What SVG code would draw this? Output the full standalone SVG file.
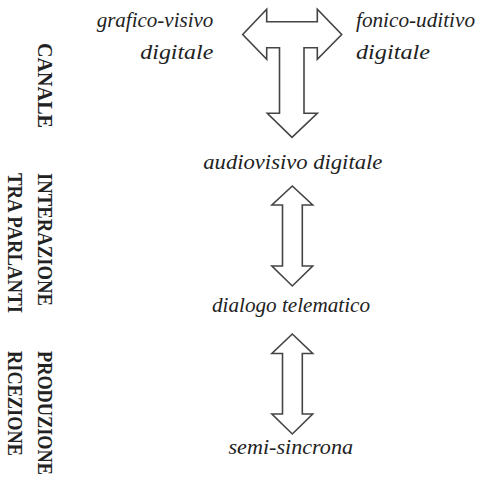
<svg xmlns="http://www.w3.org/2000/svg" width="490" height="482" viewBox="0 0 490 482">
<style>
.it{font-family:"Liberation Serif","Times New Roman",serif;font-style:italic;font-size:20px;fill:#222}
.lab{font-family:"Liberation Serif","Times New Roman",serif;font-weight:bold;font-size:20px;fill:#222}
.arr{fill:#fff;stroke:#444;stroke-width:1.6;stroke-linejoin:miter}
</style>
<rect width="490" height="482" fill="#fff"/>
<g id="label-canale"><text class="lab" transform="translate(37.5,43) rotate(90)" textLength="85" lengthAdjust="spacingAndGlyphs">CANALE</text></g>
<g id="label-interazione"><text class="lab" transform="translate(37.5,173) rotate(90)" textLength="133" lengthAdjust="spacingAndGlyphs">INTERAZIONE</text><text class="lab" transform="translate(8,173) rotate(90)" textLength="140" lengthAdjust="spacingAndGlyphs">TRA PARLANTI</text></g>
<g id="label-produzione"><text class="lab" transform="translate(37.5,351) rotate(90)" textLength="124" lengthAdjust="spacingAndGlyphs">PRODUZIONE</text><text class="lab" transform="translate(8,351) rotate(90)" textLength="105" lengthAdjust="spacingAndGlyphs">RICEZIONE</text></g>
<g id="node-grafico"><text class="it" x="213.3" y="27" text-anchor="end" textLength="116.6" lengthAdjust="spacingAndGlyphs">grafico-visivo</text><text class="it" x="213.3" y="58.5" text-anchor="end" textLength="73" lengthAdjust="spacingAndGlyphs">digitale</text></g>
<g id="node-fonico"><text class="it" x="356" y="27" textLength="119" lengthAdjust="spacingAndGlyphs">fonico-uditivo</text><text class="it" x="356" y="58.5" textLength="74" lengthAdjust="spacingAndGlyphs">digitale</text></g>
<g id="node-audiovisivo"><text class="it" x="203.3" y="169" textLength="179" lengthAdjust="spacingAndGlyphs">audiovisivo digitale</text></g>
<g id="node-dialogo"><text class="it" x="212" y="311.5" textLength="158" lengthAdjust="spacingAndGlyphs">dialogo telematico</text></g>
<g id="node-semi"><text class="it" x="228.5" y="454" textLength="124.5" lengthAdjust="spacingAndGlyphs">semi-sincrona</text></g>
<g id="connectors">
<path class="arr" d="M242.7,34.5 L266.7,9.3 L266.7,21.7 L317.3,21.7 L317.3,9.3 L341.7,34.5 L317.3,59.3 L317.3,47.7 L304,47.7 L304,113.3 L317.3,113.3 L292,137.3 L267.3,113.3 L279.5,113.3 L279.5,47.7 L266.7,47.7 L266.7,59.3 Z"/>
<path class="arr" d="M292.3,186 L312.7,205 L302.3,205 L302.3,266 L312.7,266 L292.3,286 L271.9,266 L282.5,266 L282.5,205 L271.9,205 Z"/>
<path class="arr" d="M292.3,334 L312.7,353.5 L302.3,353.5 L302.3,414 L312.7,414 L292.3,434 L271.9,414 L282.5,414 L282.5,353.5 L271.9,353.5 Z"/>
</g>
</svg>
